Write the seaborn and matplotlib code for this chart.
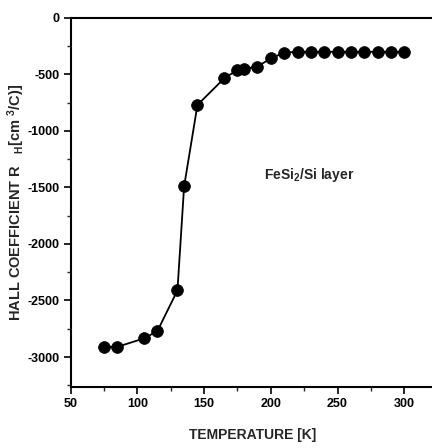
import matplotlib
matplotlib.use("Agg")
import matplotlib.pyplot as plt
from matplotlib.ticker import MultipleLocator
import seaborn as sns
import pandas as pd

# Hall coefficient of the FeSi2/Si layer versus temperature
temperature_k = [75, 85, 105, 115, 130, 135, 145, 165, 175, 180, 190, 200,
                 210, 220, 230, 240, 250, 260, 270, 280, 290, 300]
hall_coeff = [-2910, -2910, -2835, -2770, -2410, -1490, -770, -535, -460, -452,
              -430, -358, -307, -300, -300, -300, -300, -300, -300, -300, -300, -300]

x_ticks = [50, 100, 150, 200, 250, 300]
y_ticks = [0, -500, -1000, -1500, -2000, -2500, -3000]

df = pd.DataFrame({"T": temperature_k, "R": hall_coeff})

sns.set_style("ticks")
plt.rcParams["font.family"] = ["Liberation Sans Narrow", "Liberation Sans", "DejaVu Sans"]
plt.rcParams["font.weight"] = "bold"
plt.rcParams["mathtext.default"] = "regular"

fig = plt.figure(figsize=(4.32, 4.48), dpi=100)
ax = fig.add_axes([0.1637, 0.137, 0.84, 0.823])

sns.lineplot(data=df, x="T", y="R", ax=ax, color="black", linewidth=1.3,
             marker="o", markersize=8.5, markeredgecolor="black",
             markerfacecolor="black", markeredgewidth=0.5)

ax.set_xlim(50, 322)
ax.set_ylim(-3262, 0)
ax.set_xticks(x_ticks)
ax.set_yticks(y_ticks)
ax.set_xticklabels([str(v) for v in x_ticks])
ax.set_yticklabels([str(v) for v in y_ticks])
ax.xaxis.set_minor_locator(MultipleLocator(25))
ax.yaxis.set_minor_locator(MultipleLocator(250))

ax.tick_params(axis="both", which="major", direction="out", length=5, width=1.2,
               labelsize=9, colors="black", pad=3)
ax.tick_params(axis="both", which="minor", direction="out", length=3, width=1.0)
for lab in ax.get_xticklabels() + ax.get_yticklabels():
    lab.set_fontweight("bold")

for side in ["left", "bottom", "top"]:
    ax.spines[side].set_visible(True)
    ax.spines[side].set_linewidth(1.5)
    ax.spines[side].set_color("black")
ax.spines["right"].set_visible(False)

ax.set_xlabel("TEMPERATURE [K]", fontsize=10, fontweight="bold")
ax.xaxis.set_label_coords(0.5, -0.112)
ax.set_ylabel(r"HALL COEFFICIENT R   $_{H}$[cm $^{3}$/C)]", fontsize=10.5,
              fontweight="bold")
ax.yaxis.set_label_coords(-0.12, 0.5)

ax.text(195, -1390, r"FeSi$_{2}$/Si layer", fontsize=10, fontweight="bold",
        ha="left", va="center")

fig.savefig("out.png", dpi=100, facecolor="white")
